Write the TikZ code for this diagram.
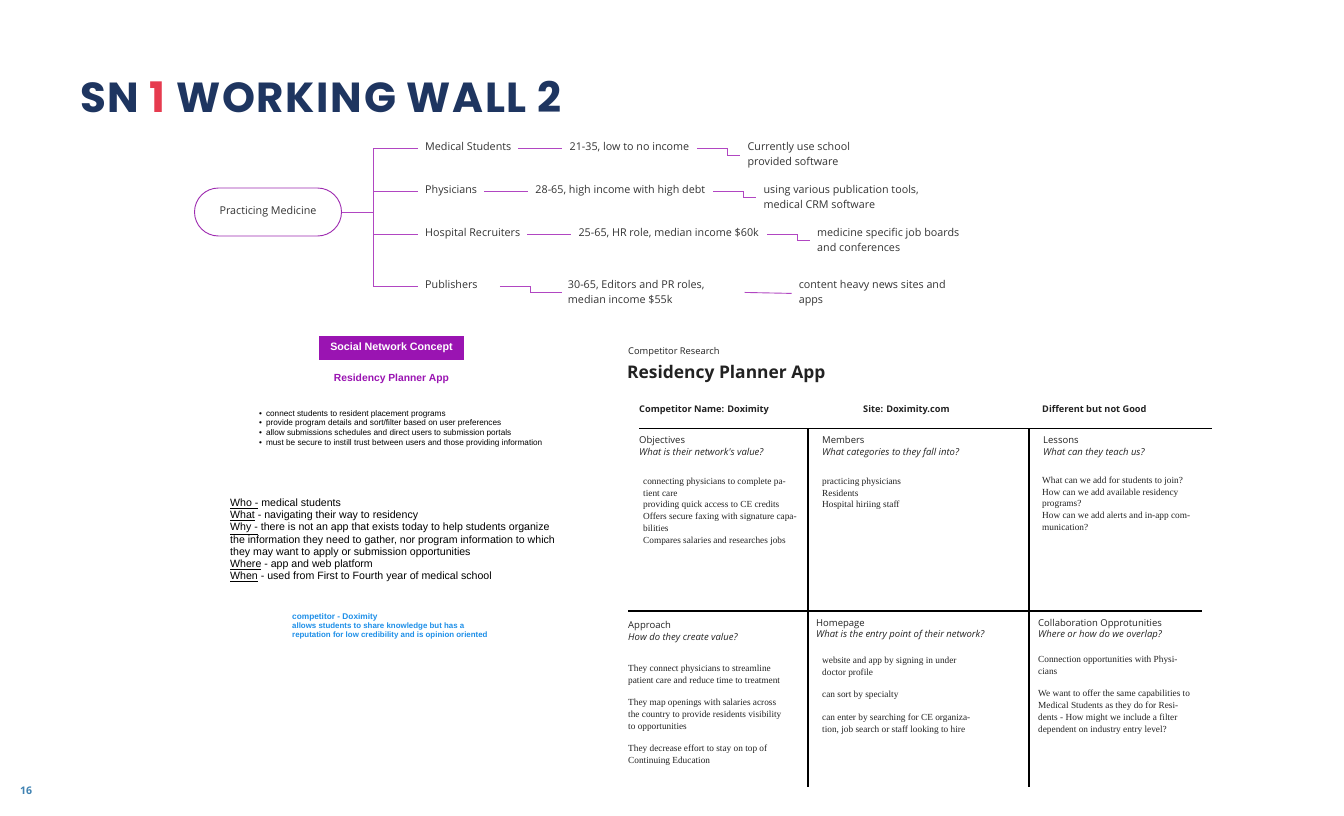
\documentclass[tikz,border=0pt]{standalone}
\usepackage{fontspec}
\setmainfont{Liberation Sans}
\newfontfamily\titlefont{Poppins}[LetterSpace=4]
\newfontfamily\mapfont{Open Sans}
\newfontfamily\cellserif{Liberation Serif}
\usetikzlibrary{positioning}
\definecolor{navy}{HTML}{1E3560}
\definecolor{snred}{HTML}{E63B4F}
\definecolor{mmline}{HTML}{B146C2}
\definecolor{mmoval}{HTML}{9E2BB0}
\definecolor{mmtext}{HTML}{333333}
\definecolor{concept}{HTML}{9A14B2}
\definecolor{notebl}{HTML}{1E8FE8}
\definecolor{pagebl}{HTML}{3F82B2}
\definecolor{cellink}{HTML}{222222}

\begin{document}
\begin{tikzpicture}[x=1pt, y=-1pt,
  mapline/.style={draw=mmline, line width=0.9pt},
  maptext/.style={inner sep=0pt, align=left, text=mmtext,
    font=\mapfont\fontsize{10.75}{15}\selectfont},
  oval/.style={draw=mmoval, line width=0.9pt, rounded corners=24pt,
    minimum width=147pt, minimum height=48pt, text=mmtext,
    font=\mapfont\fontsize{10.75}{15}\selectfont},
  conceptbox/.style={fill=concept, text=white, inner sep=0pt,
    minimum width=145pt, minimum height=24pt,
    font=\bfseries\fontsize{10.7}{12}\selectfont},
  apptitle/.style={inner sep=0pt, text=concept,
    font=\bfseries\fontsize{10.3}{12}\selectfont},
  arial/.style={inner sep=0pt, align=left, text=black, anchor=base west},
  rsans/.style={inner sep=0pt, align=left, text=cellink, anchor=base west},
  headcell/.style={rsans, font=\mapfont\fontsize{9.5}{12}\selectfont},
  bodycell/.style={inner sep=0pt, align=left, text=cellink, anchor=base west,
    font=\cellserif\fontsize{9.3}{11.8}\selectfont},
  rule/.style={draw=black, line width=1.5pt}
]
\useasboundingbox[fill=white] (0,0) rectangle (1344,816);

% Title and page number
\node[anchor=base west, inner sep=0pt, text=navy,
  font=\titlefont\bfseries\fontsize{42}{48}\selectfont] (title) at (80,112)
  {SN {\color{snred}1} WORKING WALL 2};
\node[inner sep=0pt, text=pagebl,
  font=\mapfont\bfseries\fontsize{10.5}{13}\selectfont] (page) at (26,791) {16};

% Mind map: roles
\node[oval] (pm) at (268,212) {Practicing Medicine};
\coordinate (hub) at (373,212);
\node[maptext, anchor=base west] (ms) at (425,150.7) {Medical Students};
\node[maptext, anchor=base west] (ph) at (425,193.7) {Physicians};
\node[maptext, anchor=base west] (hr) at (425,236.7) {Hospital Recruiters};
\node[maptext, anchor=base west] (pu) at (425,288.7) {Publishers};

% Mind map: ages and incomes (base = last line)
\node[maptext, base right=58pt of ms] (msage) {21-35, low to no income};
\node[maptext, base right=58pt of ph] (phage) {28-65, high income with high debt};
\node[maptext, base right=58pt of hr] (hrage) {25-65, HR role, median income \$60k};
\node[maptext, base right=90pt of pu, yshift=-15pt] (puage)
  {30-65, Editors and PR roles,\\median income \$55k};

% Mind map: tools
\node[maptext, base right=58pt of msage, yshift=-15pt] (mstool)
  {Currently use school\\provided software};
\node[maptext, base right=58pt of phage, yshift=-15pt] (phtool)
  {using various publication tools,\\medical CRM software};
\node[maptext, base right=58pt of hrage, yshift=-15pt] (hrtool)
  {medicine specific job boards\\and conferences};
\node[maptext, base right=94pt of puage] (putool)
  {content heavy news sites and\\apps};

% Mind map connectors
\draw[mapline] (pm) -- (hub);
\foreach \r in {ms,ph,hr,pu}
  \draw[mapline] (hub) |- ([xshift=-7pt]\r.mid west);
\foreach \r in {ms,ph,hr}{
  \draw[mapline] ([xshift=7pt]\r.mid east) -- ([xshift=-7pt]\r age.mid west);
  \draw[mapline] ([xshift=8pt]\r age.mid east) -- ++(30,0)
    |- ([xshift=-7pt]\r tool.west);
}
\draw[mapline] ([xshift=22pt]pu.mid east) -- ++(31,0)
  |- ([xshift=-6pt]puage.west);
\draw[mapline] ([xshift=40pt]puage.east) -- ([xshift=-7pt]putool.west);

% Social network concept
\node[conceptbox] (snc) at (391.5,348) {Social Network Concept};
\node[apptitle, below=14pt of snc] (rpa) {Residency Planner App};
\node[arial, font=\fontsize{8.2}{9.8}\selectfont] (feat) at (259,445.4)
  {\textbullet\hspace{4pt}connect students to resident placement programs\\
   \textbullet\hspace{4pt}provide program details and sort/filter based on user preferences\\
   \textbullet\hspace{4pt}allow submissions schedules and direct users to submission portals\\
   \textbullet\hspace{4pt}must be secure to instill trust between users and those providing information};
\node[arial, font=\fontsize{10.6}{12.2}\selectfont] (who) at (230,579.7)
  {\underline{Who -} medical students\\
   \underline{What} - navigating their way to residency\\
   \underline{Why -} there is not an app that exists today to help students organize\\
   the information they need to gather, nor program information to which\\
   they may want to apply or submission opportunities\\
   \underline{Where} - app and web platform\\
   \underline{When} - used from First to Fourth year of medical school};
\node[arial, text=notebl, font=\bfseries\fontsize{7.9}{8.6}\selectfont]
  (doxnote) at (292,637)
  {{\fontsize{8.3}{8.6}\selectfont competitor - Doximity}\\
   allows students to share knowledge but has a\\
   reputation for low credibility and is opinion oriented};

% Competitor research grid
\node[rsans, font=\mapfont\fontsize{9.3}{11}\selectfont]
  (cr) at (628,354.3) {Competitor Research};
\node[rsans, font=\mapfont\bfseries\fontsize{17.4}{20}\selectfont]
  (crtitle) at (627,378) {Residency Planner App};
\node[rsans, font=\mapfont\bfseries\fontsize{9.2}{11}\selectfont]
  (cname) at (639,412.2) {Competitor Name: Doximity};
\node[rsans, font=\mapfont\bfseries\fontsize{9.2}{11}\selectfont]
  (csite) at (863,412.2) {Site: Doximity.com};
\node[rsans, font=\mapfont\bfseries\fontsize{9.2}{11}\selectfont]
  (cgood) at (1042,412.2) {Different but not Good};

\draw[rule] (639,428.5) -- (1212,428.5);
\draw[rule] (628,611) -- (1202,611);
\draw[rule] (808,428.5) -- (808,787);
\draw[rule] (1029,428.5) -- (1029,787);

% Upper cells (base = last line)
\node[headcell, font=\mapfont\fontsize{9.5}{12.5}\selectfont] (obj)
  at (639,455.5) {Objectives\\\itshape What is their network's value?};
\node[headcell, font=\mapfont\fontsize{9.5}{12.5}\selectfont] (mem)
  at (822,455.5) {Members\\\itshape What categories to they fall into?};
\node[headcell, font=\mapfont\fontsize{9.5}{12.5}\selectfont] (les)
  at (1043,455.5) {Lessons\\\itshape What can they teach us?};
\node[bodycell] (objtxt) at (643,543.3)
  {connecting physicians to complete pa-\\tient care\\
   providing quick access to CE credits\\
   Offers secure faxing with signature capa-\\bilities\\
   Compares salaries and researches jobs};
\node[bodycell] (memtxt) at (822,507.9)
  {practicing physicians\\Residents\\Hospital hiriing staff};
\node[bodycell] (lestxt) at (1042,530.5)
  {What can we add for students to join?\\
   How can we add available residency\\programs?\\
   How can we add alerts and in-app com-\\munication?};

% Lower cells
\node[headcell] (appr) at (628,640.3)
  {Approach\\\itshape How do they create value?};
\node[headcell, font=\mapfont\fontsize{9.5}{11}\selectfont] (home)
  at (816,637.3)
  {Homepage\\\itshape What is the entry point of their network?};
\node[headcell, font=\mapfont\fontsize{9.5}{11}\selectfont] (collab)
  at (1038,637.3)
  {Collaboration Opprotunities\\\itshape Where or how do we overlap?};
\node[bodycell] (apprtxt) at (628,763.7)
  {They connect physicians to streamline\\
   patient care and reduce time to treatment\\[10.8pt]
   They map openings with salaries across\\
   the country to provide residents visibility\\
   to opportunities\\[10.8pt]
   They decrease effort to stay on top of\\
   Continuing Education};
\node[bodycell] (hometxt) at (822,732.3)
  {website and app by signing in under\\doctor profile\\[10.8pt]
   can sort by specialty\\[10.8pt]
   can enter by searching for CE organiza-\\
   tion, job search or staff looking to hire};
\node[bodycell] (collabtxt) at (1038,732.3)
  {Connection opportunities with Physi-\\cians\\[10.8pt]
   We want to offer the same capabilities to\\
   Medical Students as they do for Resi-\\
   dents - How might we include a filter\\
   dependent on industry entry level?};

\end{tikzpicture}
\end{document}
